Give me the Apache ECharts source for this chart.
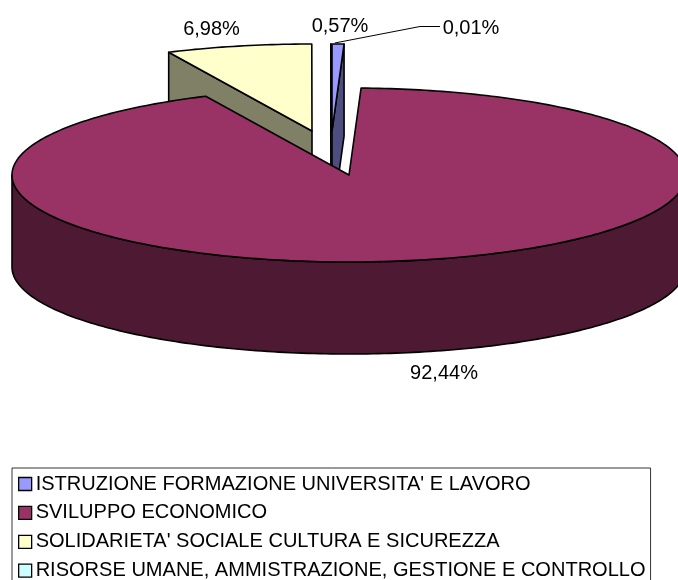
<!DOCTYPE html>
<html>
<head>
<meta charset="utf-8">
<style>html,body{margin:0;padding:0;background:#fff;overflow:hidden}#c{width:678px;height:580px}</style>
<script src="https://cdn.jsdelivr.net/npm/echarts@6/dist/echarts.min.js"></script>
</head>
<body>
<div id="c"></div>
<script>
var categories = ["ISTRUZIONE FORMAZIONE UNIVERSITA' E LAVORO", "SVILUPPO ECONOMICO", "SOLIDARIETA' SOCIALE CULTURA E SICUREZZA", "RISORSE UMANE, AMMISTRAZIONE, GESTIONE E CONTROLLO"];
var values = [0.57, 92.44, 6.98, 0.01];

var topColors = ['#9999FF', '#993366', '#FFFFCC', '#CCFFFF'];
var wallColors = ['#4D4D80', '#4D1933', '#808066', '#668080'];
var explode = [[-17, -44], [0, 0], [-37, -44], [-18, -44]];
var seriesZ = [4, 5, 2, 3];
var labelPos = [[340, 26], [444, 373], [211.5, 29], [471, 28]];
var CX = 349, CY = 175, RX = 337, RY = 87, DEPTH = 92, FONT = 'Liberation Sans, Arial, sans-serif';
var total = values.reduce(function (a, b) { return a + b; }, 0);

function pt(t, ox, oy, d) {
  var r = t * Math.PI / 180;
  return [CX + ox + RX * Math.sin(r), CY + oy + d - RY * Math.cos(r)];
}
function arc(t0, t1, ox, oy, d) {
  var n = Math.max(2, Math.ceil(Math.abs(t1 - t0))), out = [];
  for (var i = 0; i <= n; i++) out.push(pt(t0 + (t1 - t0) * i / n, ox, oy, d));
  return out;
}
function poly(points, fill) {
  return { type: 'polygon', shape: { points: points }, style: { fill: fill, stroke: '#000', lineWidth: 1.6, lineJoin: 'round' } };
}
function makeRender(idx) {
  return function (params, api) {
    var before = 0;
    for (var i = 0; i < idx; i++) before += values[i];
    var t0 = before / total * 360, t1 = t0 + api.value(0) / total * 360;
    var ox = explode[idx][0], oy = explode[idx][1];
    var apex = [CX + ox, CY + oy], apexB = [CX + ox, CY + oy + DEPTH];
    var kids = [];
    function radialWall(t) {
      var a = pt(t, ox, oy, 0), b = pt(t, ox, oy, DEPTH);
      kids.push(poly([apex, a, b, apexB], wallColors[idx]));
    }
    if (Math.sin(t0 * Math.PI / 180) < -1e-6) radialWall(t0);
    if (Math.sin(t1 * Math.PI / 180) > 1e-6) radialWall(t1);
    var a0 = Math.max(t0, 90), a1 = Math.min(t1, 270);
    if (a1 > a0) {
      kids.push(poly(arc(a0, a1, ox, oy, 0).concat(arc(a1, a0, ox, oy, DEPTH)), wallColors[idx]));
    }
    kids.push(poly([apex].concat(arc(t0, t1, ox, oy, 0)), topColors[idx]));
    if (idx === 3) {
      var s = pt(t0, ox, oy, 0);
      kids.push({ type: 'polyline', shape: { points: [[s[0] + 4, s[1] - 1], [420, 26.5], [440, 26.5]] }, style: { fill: null, stroke: '#000', lineWidth: 1 } });
    }
    kids.push({
      type: 'text', x: labelPos[idx][0], y: labelPos[idx][1],
      style: { text: values[idx].toFixed(2).replace('.', ',') + '%', fill: '#000', font: '20px ' + FONT, align: 'center', verticalAlign: 'middle' }
    });
    return { type: 'group', children: kids };
  };
}

var chart = echarts.init(document.getElementById('c'), null, { renderer: 'canvas' });
chart.setOption({
  animation: false,
  backgroundColor: '#fff',
  tooltip: { show: false },
  legend: {
    data: categories,
    orient: 'vertical',
    left: 12, top: 468,
    height: 200,
    padding: [5, 5, 12, 6],
    itemGap: 6.9,
    itemWidth: 13, itemHeight: 13,
    icon: 'rect',
    selectedMode: false,
    backgroundColor: '#fff',
    borderColor: '#000', borderWidth: 0.8,
    itemStyle: { borderColor: '#000', borderWidth: 1.3 },
    textStyle: { color: '#000', fontFamily: FONT, fontSize: 20.05, padding: [2, 0, 0, -1], lineHeight: 20 }
  },
  series: categories.map(function (name, i) {
    return {
      type: 'custom',
      name: name,
      coordinateSystem: 'none',
      z: seriesZ[i],
      silent: true,
      itemStyle: { color: topColors[i] },
      renderItem: makeRender(i),
      data: [[values[i]]]
    };
  })
});
</script>
</body>
</html>
